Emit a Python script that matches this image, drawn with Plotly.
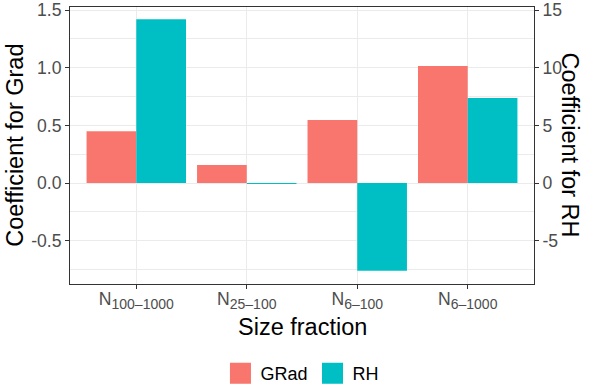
import plotly.graph_objects as go

SUB = '<sub><span style="font-size:14px">{}</span></sub>'
categories = ["N" + SUB.format("100–1000"), "N" + SUB.format("25–100"),
              "N" + SUB.format("6–100"), "N" + SUB.format("6–1000")]
grad_values = [0.45, 0.156, 0.546, 1.014]
rh_values = [14.2, -0.06, -7.6, 7.37]

left_ticks = [-0.5, 0.0, 0.5, 1.0, 1.5]
left_ticktext = ["-0.5", "0.0", "0.5", "1.0", "1.5"]
right_ticks = [-5, 0, 5, 10, 15]
right_ticktext = ["-5", "0", "5", "10", "15"]

RED = "#F8766D"
TEAL = "#00BFC4"
FONT = "Arial, Liberation Sans, sans-serif"
TICKCOL = "#4D4D4D"
GRID = "#EBEBEB"
BORDER = "#333333"

fig = go.Figure()
fig.add_trace(go.Bar(x=categories, y=grad_values, name="GRad", marker=dict(color=RED, line=dict(width=0)),
                     width=0.45, offset=-0.45, yaxis="y", showlegend=False))
fig.add_trace(go.Bar(x=categories, y=rh_values, name="RH", marker=dict(color=TEAL, line=dict(width=0)),
                     width=0.45, offset=0.0, yaxis="y2", showlegend=False))
# legend entries
for nm, col in [("GRad", RED), ("RH", TEAL)]:
    fig.add_trace(go.Scatter(x=[None], y=[None], mode="markers", name=nm,
                             marker=dict(symbol="square", size=16, color=col, line=dict(color=col, width=5)),
                             showlegend=True))

fig.update_layout(
    width=589, height=390,
    margin=dict(l=70, r=55, t=7, b=106, autoexpand=False),
    paper_bgcolor="white", plot_bgcolor="white",
    font=dict(family=FONT, color="black"),
    barmode="overlay",
    showlegend=True,
    legend=dict(orientation="h", x=0.501, xanchor="center", y=-0.323, yanchor="middle",
                font=dict(size=18, color="black"), itemwidth=30, bgcolor="rgba(0,0,0,0)"),
    xaxis=dict(type="category", range=[-0.6, 3.6], showgrid=True, gridcolor=GRID, gridwidth=1,
               showline=True, linecolor=BORDER, linewidth=1, mirror=True,
               ticks="outside", ticklen=4, tickcolor=BORDER, tickwidth=1, automargin=False,
               ticklabelstandoff=-5,
               tickfont=dict(size=17.6, color=TICKCOL, family=FONT)),
    yaxis=dict(range=[-0.875, 1.526], tickvals=left_ticks, ticktext=left_ticktext,
               showgrid=True, gridcolor=GRID, gridwidth=1, zeroline=False, automargin=False,
               minor=dict(dtick=0.25, tick0=0, showgrid=True, gridcolor=GRID, gridwidth=0.6),
               showline=True, linecolor=BORDER, linewidth=1, mirror=True,
               ticks="outside", ticklen=4, tickcolor=BORDER, tickwidth=1,
               tickfont=dict(size=17.6, color=TICKCOL, family=FONT)),
    yaxis2=dict(overlaying="y", side="right", range=[-8.75, 15.26], tickvals=right_ticks, ticktext=right_ticktext,
                showgrid=False, zeroline=False, showline=True, linecolor=BORDER, linewidth=1, automargin=False,
                ticks="outside", ticklen=4, tickcolor=BORDER, tickwidth=1,
                tickfont=dict(size=17.6, color=TICKCOL, family=FONT)),
    annotations=[
        dict(text="Size fraction", xref="paper", yref="paper", x=0.5, y=-0.157, xanchor="center", yanchor="middle",
             showarrow=False, font=dict(size=23.5, color="black", family=FONT)),
        dict(text="Coefficient for Grad", xref="paper", yref="paper", x=-0.12, y=0.5, textangle=-90,
             xanchor="center", yanchor="middle", showarrow=False, font=dict(size=23.5, color="black", family=FONT)),
        dict(text="Coefficient for RH", xref="paper", yref="paper", x=1.0797, y=0.5, textangle=90,
             xanchor="center", yanchor="middle", showarrow=False, font=dict(size=23.5, color="black", family=FONT)),
    ],
)

fig.write_html("out.html", config={"displayModeBar": False},
               post_script="document.body.style.margin='0';document.body.style.padding='0';")
